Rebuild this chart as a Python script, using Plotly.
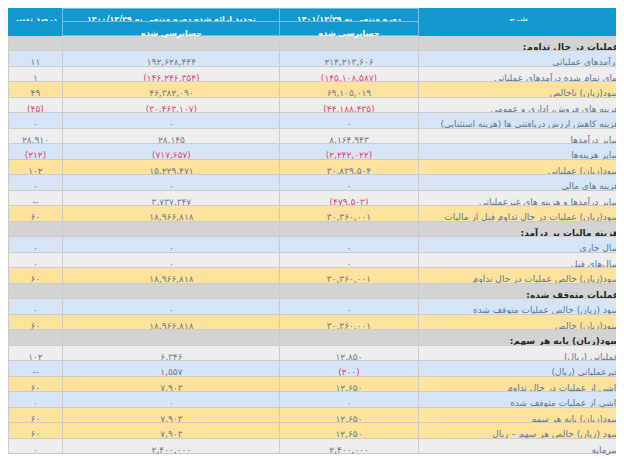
import plotly.graph_objects as go

RLM = "\u200f"
NB = "\u00a0"

descriptions = [
    "عملیات در حال تداوم:", "درآمدهای عملیاتی", "بهای تمام شده درآمدهای عملیاتی",
    "سود(زیان) ناخالص", "هزینه های فروش، اداری و عمومی",
    "هزینه کاهش ارزش دریافتنی ها (هزینه استثنایی)", "سایر درآمدها", "سایر هزینه‌ها",
    "سود(زیان) عملیاتی", "هزینه های مالی", "سایر درآمدها و هزینه های غیرعملیاتی",
    "سود(زیان) عملیات در حال تداوم قبل از مالیات", "هزینه مالیات بر درآمد:",
    "سال جاری", "سال‌های قبل", "سود(زیان) خالص عملیات در حال تداوم",
    "عملیات متوقف شده:", "سود (زیان) خالص عملیات متوقف شده", "سود(زیان) خالص",
    "سود(زیان) پایه هر سهم:", "عملیاتی (ریال)", "غیرعملیاتی (ریال)",
    "ناشی از عملیات در حال تداوم", "ناشی از عملیات متوقف شده",
    "سود(زیان) پایه هر سهم", "سود (زیان) خالص هر سهم – ریال", "سرمایه",
]
row_types = ["sec", "blue", "gray", "yellow", "gray", "blue", "gray", "blue", "yellow",
             "blue", "gray", "yellow", "sec", "blue", "gray", "yellow", "sec", "blue",
             "yellow", "sec", "gray", "blue", "yellow", "blue", "yellow", "yellow", "gray"]
current_1401 = [None, 214213606, -145108587, 69105019, -44188435, 0, 8164943, -2242022,
                30839504, 0, -479503, 30360001, None, 0, 0, 30360001, None, 0, 30360001,
                None, 12850, -200, 12650, 0, 12650, 12650, 2400000]
prior_1400 = [None, 192628444, -146246354, 46382090, -30463107, 0, 28145, -717657,
              15229471, 0, 3737347, 18966818, None, 0, 0, 18966818, None, 0, 18966818,
              None, 6346, 1557, 7903, 0, 7903, 7903, 2400000]
change_pct = [None, 11, 1, 49, -45, 0, 28910, -212, 102, 0, "--", 60, None, 0, 0, 60,
              None, 0, 60, None, 102, "--", 60, 0, 60, 60, 0]

header_top = ["درصد تغییر", "تجدید ارائه شده دوره منتهی به ۱۴۰۰/۱۲/۲۹",
              "دوره منتهی به ۱۴۰۱/۱۲/۲۹", "شرح"]
header_sub = ["", "حسابرسی شده", "حسابرسی شده", ""]

# column widths in pixels (left to right)
col_px = [54, 214, 136, 209]

FA = str.maketrans("0123456789", "۰۱۲۳۴۵۶۷۸۹")


def fmt(v):
    if v is None:
        return ""
    if isinstance(v, str):
        return v
    s = f"{abs(v):,}".translate(FA)
    return f"({s})" if v < 0 else s


def rtl(s):
    if not s:
        return ""
    return RLM + s.replace(" ", NB) + RLM


NUM_C = "#6d7c8c"
NEG_C = "#ec3f6a"
DESC_C = "#61789a"
SEC_C = "#2a2a2a"
fills = {"sec": "#d3d3d3", "blue": "#d5e5f5", "gray": "#ededed", "yellow": "#fee29c"}
HB = "#1398cf"
HL = "#6cc0e6"
GRID = "#cccccc"
FONT = "DejaVu Sans"


def num_colors(vals):
    return [NEG_C if (isinstance(v, (int, float)) and v < 0) else NUM_C for v in vals]


desc_vals = [rtl(d) for d in descriptions]
desc_colors = [SEC_C if t == "sec" else DESC_C for t in row_types]
row_weight = ["bold" if t == "sec" else "normal" for t in row_types]
row_fill = [fills[t] for t in row_types]

W, H = 624, 460
ML, MR = 0, 5
INSET = 8  # plotly offsets table columns by this much inside the domain
plot_w = W - ML - MR
left0 = 6
split = left0 + sum(col_px[:3])  # boundary between numbers and description column

HEADER_H = 13.5
ROW_H = 15.5

fig = go.Figure()
# description column (own table so right-aligned RTL text positions correctly)
fig.add_trace(go.Table(
    domain=dict(x=[(split - INSET) / plot_w, 1], y=[0, 1]),
    header=dict(
        values=[[rtl(header_top[3]), ""]],
        fill_color=HB,
        line=dict(color=[[HB, HB]], width=1),
        font=dict(family=FONT, size=8, color="white", weight="bold"),
        align="center", height=HEADER_H,
    ),
    cells=dict(
        values=[desc_vals],
        fill_color=[row_fill],
        line=dict(color=GRID, width=1),
        font=dict(family=FONT, size=9, color=[desc_colors]),
        align="right", height=ROW_H,
    ),
))
fig._data[0]["cells"]["font"]["weight"] = [row_weight]

# numeric columns
fig.add_trace(go.Table(
    domain=dict(x=[0, split / plot_w], y=[0, 1]),
    columnwidth=col_px[:3],
    header=dict(
        values=[[rtl(a), rtl(b)] for a, b in zip(header_top[:3], header_sub[:3])],
        fill_color=HB,
        line=dict(color=[[HB, HB], [HL, HL], [HL, HL]], width=1),
        font=dict(family=FONT, size=8, color="white", weight="bold"),
        align="center", height=HEADER_H,
    ),
    cells=dict(
        values=[[fmt(v) for v in change_pct], [fmt(v) for v in prior_1400],
                [fmt(v) for v in current_1401]],
        fill_color=[row_fill] * 3,
        line=dict(color=GRID, width=1),
        font=dict(family=FONT, size=9,
                  color=[num_colors(change_pct), num_colors(prior_1400),
                         num_colors(current_1401)]),
        align="center", height=ROW_H,
    ),
))
fig.update_layout(width=W, height=H, margin=dict(l=ML, r=MR, t=0, b=0),
                  paper_bgcolor="white")
fig.write_html("out.html")
